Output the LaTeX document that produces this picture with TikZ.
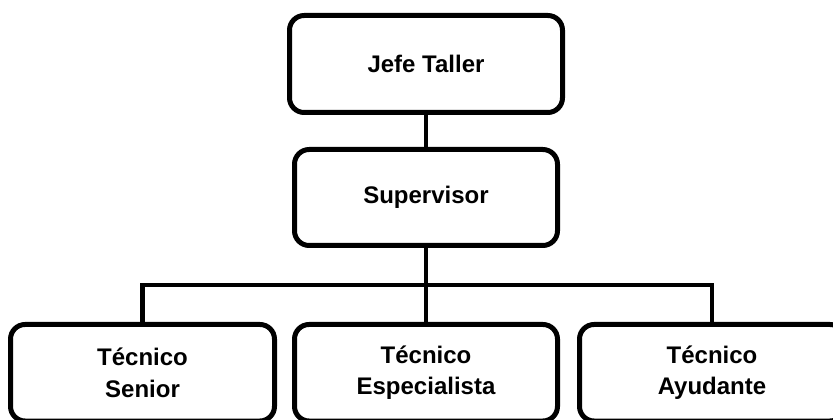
\documentclass[tikz,border=0pt]{standalone}
\usepackage{fontspec}
\setmainfont{Liberation Sans}
\begin{document}
\begin{tikzpicture}[x=0.75pt,y=-0.75pt,
  orgbox/.style={draw=black, line width=3.75pt, rounded corners=11pt,
    fill=white, inner sep=0pt, align=center,
    font=\fontsize{18}{23.5}\selectfont\bfseries},
  link/.style={draw=black, line width=3.5pt}]
  \useasboundingbox (0,0) rectangle (833,420);
  \clip (0,0) rectangle (833,420);

  % bus bar joints
  \coordinate (bus) at (426,285);
  \coordinate (busL) at (142.5,285);
  \coordinate (busR) at (712,285);

  % boxes
  \node[orgbox, minimum width=204.75pt, minimum height=72.75pt] (jefe) at (426,64) {\raisebox{-2pt}{Jefe Taller}};
  \node[orgbox, minimum width=197.25pt, minimum height=72pt] (sup) at (426,197.5) {\raisebox{-2pt}{Supervisor}};
  \node[orgbox, minimum width=198pt, minimum height=72.4pt] (senior) at (142.5,372.75) {Técnico\\Senior};
  \node[orgbox, minimum width=197.25pt, minimum height=72.4pt] (esp) at (426,372.75) {Técnico\\Especialista};
  \node[orgbox, minimum width=198.75pt, minimum height=72.4pt] (ayu) at (712,372.75) {Técnico\\Ayudante};

  % connectors
  \draw[link] (jefe.south) -- (sup.north);
  \draw[link] (sup.south) -- (bus);
  \draw[link, line cap=rect] (busL) -- (busR);
  \draw[link] (busL) -- (senior.north);
  \draw[link] (bus) -- (esp.north);
  \draw[link] (busR) -- (ayu.north);
\end{tikzpicture}
\end{document}
